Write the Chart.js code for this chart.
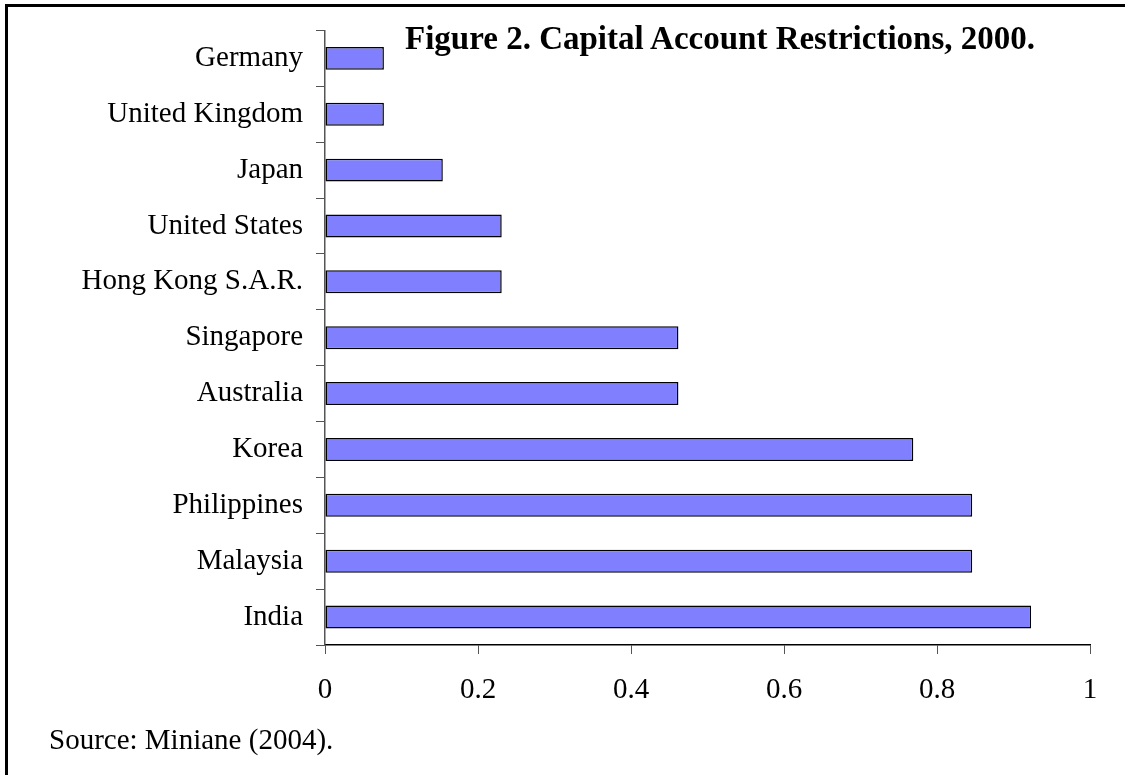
<!DOCTYPE html>
<html>
<head>
<meta charset="utf-8">
<script src="https://cdn.jsdelivr.net/npm/chart.js@4/dist/chart.umd.min.js"></script>
<style>
  html, body { margin: 0; padding: 0; background: #fff; overflow: hidden; }
  #wrap { position: relative; width: 1125px; height: 775px; }
  #frame {
    position: absolute; left: 5px; top: 4px; width: 1200px; height: 900px;
    border-top: 3px solid #000; border-left: 3px solid #000;
  }
  .txt { position: absolute; font-family: "Liberation Serif", "Times New Roman", serif; color: #000; line-height: 1; white-space: nowrap; }
  #title { left: 405px; top: 22px; font-size: 33px; font-weight: bold; }
  #source { left: 49px; top: 725px; font-size: 29px; }
  canvas { position: absolute; left: 0; top: 0; }
</style>
</head>
<body>
<div id="wrap">
  <canvas id="capChart" width="1125" height="775"></canvas>
  <div id="frame"></div>
  <div class="txt" id="title">Figure 2. Capital Account Restrictions, 2000.</div>
  <div class="txt" id="source">Source: Miniane (2004).</div>
</div>
<script>
// Countries, top to bottom
const countries = ['Germany', 'United Kingdom', 'Japan', 'United States', 'Hong Kong S.A.R.',
  'Singapore', 'Australia', 'Korea', 'Philippines', 'Malaysia', 'India'];

// Restriction index values
const restrictions = [0.077, 0.077, 0.154, 0.231, 0.231, 0.462, 0.462, 0.769, 0.846, 0.846, 0.923];

// X axis ticks
const xTicks = [0, 0.2, 0.4, 0.6, 0.8, 1];

const labelFont = { family: '"Liberation Serif", "Times New Roman", serif', size: 29 };

new Chart(document.getElementById('capChart'), {
  type: 'bar',
  data: {
    labels: countries,
    datasets: [{
      data: restrictions,
      backgroundColor: '#8080FF',
      borderColor: '#000',
      borderWidth: 1.5,
      borderSkipped: false,
      barPercentage: 0.41,
      categoryPercentage: 1
    }]
  },
  options: {
    indexAxis: 'y',
    responsive: false,
    animation: false,
    layout: { padding: { top: 11, right: 35, bottom: 0, left: 0 } },
    plugins: {
      legend: { display: false },
      tooltip: { enabled: false }
    },
    scales: {
      x: {
        min: 0,
        max: 1,
        afterBuildTicks: function(scale) {
          scale.ticks = xTicks.map(v => ({ value: v }));
        },
        afterFit: function(scale) { scale.height = 130; },
        ticks: {
          color: '#000',
          font: labelFont,
          padding: 19,
          maxRotation: 0,
          callback: v => String(+v.toFixed(1))
        },
        grid: {
          drawOnChartArea: false,
          drawTicks: true,
          tickLength: 9,
          color: '#555'
        },
        border: { display: true, color: '#000', width: 1.5 }
      },
      y: {
        afterFit: function(scale) { scale.width = 325; },
        ticks: {
          color: '#000',
          font: labelFont,
          padding: 13
        },
        grid: {
          offset: true,
          drawOnChartArea: false,
          drawTicks: true,
          tickLength: 9,
          color: '#555'
        },
        border: { display: true, color: '#555', width: 1.5 }
      }
    }
  }
});
</script>
</body>
</html>
